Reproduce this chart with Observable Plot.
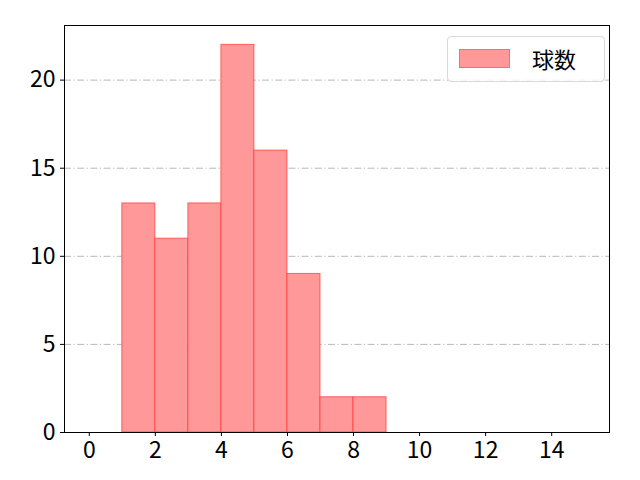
<!DOCTYPE html>
<html>
<head>
<meta charset="utf-8">
<script src="https://cdn.jsdelivr.net/npm/d3@7"></script>
<script src="https://cdn.jsdelivr.net/npm/@observablehq/plot@0.6"></script>
<style>
  html, body { margin: 0; padding: 0; background: #fff; }
  #wrap { position: relative; width: 640px; height: 480px; font-family: "Noto Sans CJK JP", "Noto Sans", sans-serif; }
  #wrap svg text { font-size: 23px !important; font-weight: 400; }
  #legend { position: absolute; left: 447px; top: 36px; width: 158px; height: 46px; box-sizing: border-box;
    border: 1px solid #d9d9d9; border-radius: 4px; background: rgba(255,255,255,0.8); }
  #legend .sw { position: absolute; left: 11px; top: 12px; width: 51px; height: 19px; background: #ff9999; border: 1px solid #ff6b6b; box-sizing: border-box; }
  #legend .lb { position: absolute; left: 84px; top: 5px; font-size: 22px; font-weight: 400; line-height: 32px; color: #000; }
</style>
</head>
<body>
<div id="wrap"></div>
<script>
const binStart = [0, 1, 2, 3, 4, 5, 6, 7, 8, 9, 10, 11, 12, 13, 14];
const counts   = [0, 13, 11, 13, 22, 16, 9, 2, 2, 0, 0, 0, 0, 0, 0];
const xTicks = [0, 2, 4, 6, 8, 10, 12, 14];
const yTicks = [0, 5, 10, 15, 20];
const seriesName = "球数";

const data = binStart.map((b, i) => ({x1: b, x2: b + 1, y: counts[i]}));

const chart = Plot.plot({
  width: 640,
  height: 480,
  marginLeft: 64,
  marginRight: 31,
  marginTop: 25,
  marginBottom: 48,
  style: {fontFamily: '"Noto Sans CJK JP", "Noto Sans", sans-serif', background: "#fff", color: "#000"},
  x: {domain: [-0.75, 15.75], label: null},
  y: {domain: [0, 23.1], label: null},
  marks: [
    Plot.ruleY(yTicks.filter(d => d > 0), {stroke: "#b0b0b0", strokeWidth: 0.9, strokeDasharray: "7,2.5,1.2,2.5"}),
    Plot.rectY(data, {x1: "x1", x2: "x2", y: "y", fill: "#ff9999", stroke: "#ff3333", strokeOpacity: 0.7, strokeWidth: 1, inset: 0}),
    Plot.axisX({ticks: xTicks, tickSize: 4, tickPadding: 5, label: null}),
    Plot.axisY({ticks: yTicks, tickSize: 4, tickPadding: 5, label: null}),
    Plot.frame({stroke: "#000", strokeWidth: 1})
  ]
});
document.getElementById("wrap").appendChild(chart);

const lg = document.createElement("div");
lg.id = "legend";
lg.innerHTML = '<div class="sw"></div><div class="lb"></div>';
lg.querySelector(".lb").textContent = seriesName;
document.getElementById("wrap").appendChild(lg);
</script>
</body>
</html>
